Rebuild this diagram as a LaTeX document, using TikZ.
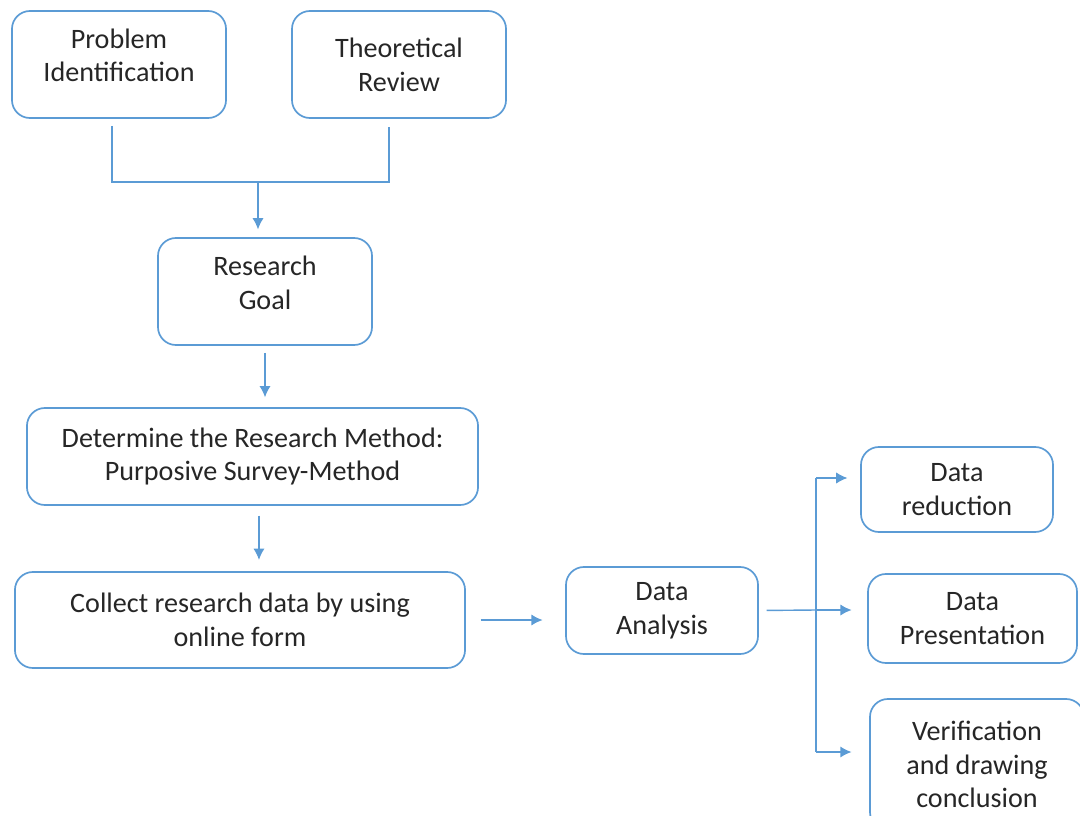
\documentclass[tikz,border=0pt]{standalone}
\usepackage{fontspec}
\setmainfont{Carlito}
\usetikzlibrary{arrows.meta}
\definecolor{boxblue}{HTML}{5B9BD5}
\begin{document}
\begin{tikzpicture}[x=0.025cm, y=-0.025cm,
		flowbox/.style={draw=boxblue, line width=1.2pt, rounded corners=0.45cm, align=center, text=black!85, font=\fontsize{20}{24}\selectfont, inner sep=0pt},
		link/.style={draw=boxblue, line width=1pt},
		flow/.style={link, -{Latex[length=8pt,width=8pt]}}]
		\useasboundingbox (0,0) rectangle (1080,816);
		\node[flowbox, minimum width=5.35cm, minimum height=2.675cm, text depth=13pt] (ident) at (119,64.5) {Problem\\Identification};
		\node[flowbox, minimum width=5.35cm, minimum height=2.675cm] (review) at (399,64.5) {Theoretical\\Review};
		\node[flowbox, minimum width=5.35cm, minimum height=2.675cm, text depth=13pt] (goal) at (265,291.5) {Research\\Goal};
		\node[flowbox, minimum width=11.275cm, minimum height=2.425cm] (method) at (252.5,456.5) {Determine the Research Method:\\Purposive Survey-Method};
		\node[flowbox, minimum width=11.25cm, minimum height=2.4cm] (collect) at (240,620) {Collect research data by using\\online form};
		\node[flowbox, minimum width=4.8cm, minimum height=2.175cm] (analysis) at (662,610.5) {Data\\Analysis};
		\node[flowbox, minimum width=4.8cm, minimum height=2.125cm] (reduction) at (957,489.5) {Data\\reduction};
		\node[flowbox, minimum width=5.225cm, minimum height=2.225cm] (presentation) at (972.5,618.5) {Data\\Presentation};
		\node[flowbox, minimum width=5.35cm, minimum height=3.275cm] (conclusion) at (977,764.5) {Verification\\and drawing\\conclusion};
		% joining the two first steps
		\coordinate (mergeL) at (112,182);
		\coordinate (mergeR) at (389,182);
		\coordinate (mergeM) at (258,182);
		\draw[link, shorten <=5pt, shorten >=6pt] (ident.south -| mergeL) -- (mergeL) -- (mergeR) -- (review.south -| mergeR);
		\draw[flow, shorten >=5.5pt] (mergeM) -- (mergeM |- goal.north);
		\draw[flow, shorten <=5pt, shorten >=7pt] (goal.south) -- (goal.south |- method.north);
		\draw[flow, shorten <=7pt, shorten >=8pt] ([xshift=4.6pt]method.south) -- ([xshift=4.6pt]method.south |- collect.north);
		\draw[flow, shorten <=10.5pt, shorten >=16pt] (collect.east) -- (collect.east -| analysis.west);
		% branching of the analysis
		\coordinate (split) at (816,610);
		\coordinate (branchTop) at (816,478);
		\coordinate (branchBot) at (816,752);
		\draw[link, shorten <=5.5pt] (analysis.east) -- (split);
		\draw[link] (branchTop) -- (branchBot);
		\draw[flow, shorten >=9pt] (branchTop) -- (branchTop -| reduction.west);
		\draw[flow, shorten >=11pt] (split) -- (split -| presentation.west);
		\draw[flow, shorten >=12.5pt] (branchBot) -- (branchBot -| conclusion.west);
	\end{tikzpicture}
\end{document}
